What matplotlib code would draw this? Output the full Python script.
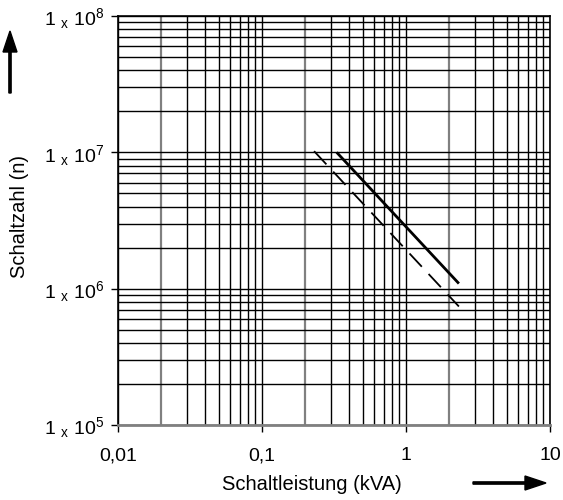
import numpy as np, matplotlib; matplotlib.use("Agg")
import matplotlib.pyplot as plt
from matplotlib.ticker import FixedLocator, LogLocator, NullFormatter

plt.rcParams["font.family"] = ["Liberation Sans", "DejaVu Sans"]

# data
solid_x = [0.33, 2.33]
solid_y = [1.0e7, 1.09e6]
dash_x = [0.23, 2.33]
dash_y = [1.02e7, 7.4e5]
xticks = [0.01, 0.1, 1, 10]
xticklabels = ["0,01", "0,1", "1", "10"]
yticks = [1e5, 1e6, 1e7, 1e8]
yticklabels = [r"1 $\mathregular{_x}$ 10$\mathregular{^%d}$" % e for e in (5, 6, 7, 8)]

fig = plt.figure(figsize=(5.63, 5.0), dpi=100)
ax = fig.add_axes([118/563, 1-425/500, (550-118)/563, (425-16)/500])
ax.set_xscale("log"); ax.set_yscale("log")
ax.set_xlim(0.01, 10); ax.set_ylim(1e5, 1e8)

ax.plot(solid_x, solid_y, color="k", lw=2.0, solid_capstyle="butt", zorder=5)
ax.plot(dash_x, dash_y, color="k", lw=1.3, dashes=(10, 5.5), zorder=5)

ax.xaxis.set_major_locator(FixedLocator(xticks))
ax.set_xticklabels(xticklabels)
ax.yaxis.set_major_locator(FixedLocator(yticks))
ax.set_yticklabels(yticklabels)
ax.xaxis.set_minor_locator(LogLocator(base=10, subs=np.arange(2, 10)))
ax.yaxis.set_minor_locator(LogLocator(base=10, subs=np.arange(2, 10)))
ax.xaxis.set_minor_formatter(NullFormatter()); ax.yaxis.set_minor_formatter(NullFormatter())
ax.tick_params(which="major", length=5, width=1, labelsize=14, pad=5)
ax.tick_params(axis="x", which="major", pad=11)
ax.tick_params(which="minor", length=0)

ax.grid(which="both", color="k", lw=1.0)
fig.canvas.draw()
for t in ax.xaxis.get_minor_ticks():
    loc = t.get_loc()
    m = loc / 10**np.floor(np.log10(loc) + 1e-9)
    if abs(m - 2) < 1e-6:
        t.gridline.set_color("#808080"); t.gridline.set_linewidth(1.6)
for s in ax.spines.values():
    s.set_linewidth(1.2)
ax.spines["bottom"].set_color("#808080"); ax.spines["bottom"].set_linewidth(2)

fig.text(312/563, 1-484/500, "Schaltleistung (kVA)", fontsize=14.5, ha="center", va="center")
fig.text(20/563, 1-217/500, "Schaltzahl (n)", fontsize=14.5, ha="center", va="center", rotation=90)

# direction arrows
fig.patches.append(matplotlib.patches.FancyArrow(10/563, 1-93/500, 0, -(31-93)/500,
    width=0.004, head_width=14/563, head_length=21/500, length_includes_head=True,
    color="k", transform=fig.transFigure, figure=fig))
fig.patches.append(matplotlib.patches.FancyArrow(473/563, 1-483/500, (546-473)/563, 0,
    width=0.0045, head_width=14/500, head_length=21/563, length_includes_head=True,
    color="k", transform=fig.transFigure, figure=fig))

fig.savefig("out.png", dpi=100)
